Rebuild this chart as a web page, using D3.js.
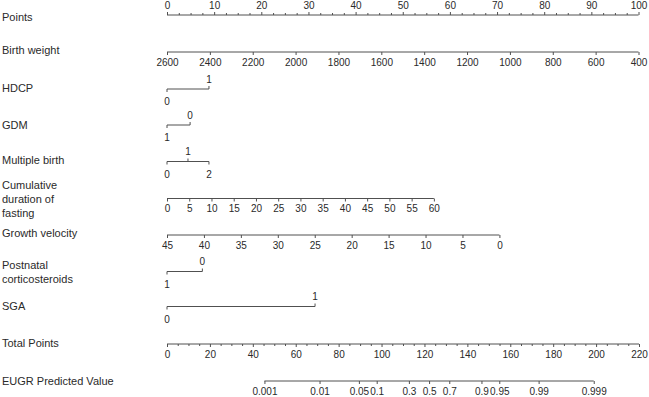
<!DOCTYPE html>
<html>
<head>
<meta charset="utf-8">
<script src="https://cdn.jsdelivr.net/npm/d3@7"></script>
<style>
  html, body { margin: 0; padding: 0; background: #fff; }
  svg text { font-family: "Liberation Sans", Arial, sans-serif; fill: #2a2a2a; }
</style>
</head>
<body>
<svg id="chart" width="649" height="397"></svg>
<script>
// ---- data ----
const pointsTicks = [0, 10, 20, 30, 40, 50, 60, 70, 80, 90, 100];
const pointsMinorStep = 2.5;

const birthWeightTicks = [2600, 2400, 2200, 2000, 1800, 1600, 1400, 1200, 1000, 800, 600, 400];
const birthWeightRange = [2600, 400];
const birthWeightPoints = [0, 100];

const hdcpLevels = ["0", "1"];
const hdcpPoints = [0, 8.9];
const hdcpSide = ["below", "above"];

const gdmLevels = ["1", "0"];
const gdmPoints = [0, 4.9];
const gdmSide = ["below", "above"];

const multipleLevels = ["0", "1", "2"];
const multiplePoints = [0, 4.45, 8.9];
const multipleSide = ["below", "above", "below"];

const fastingTicks = [0, 5, 10, 15, 20, 25, 30, 35, 40, 45, 50, 55, 60];
const fastingRange = [0, 60];
const fastingPoints = [0, 56.6];

const growthTicks = [45, 40, 35, 30, 25, 20, 15, 10, 5, 0];
const growthRange = [45, 0];
const growthPoints = [0, 70.5];

const postnatalLevels = ["1", "0"];
const postnatalPoints = [0, 7.5];
const postnatalSide = ["below", "above"];

const sgaLevels = ["0", "1"];
const sgaPoints = [0, 31.4];
const sgaSide = ["below", "above"];

const totalTicks = [0, 20, 40, 60, 80, 100, 120, 140, 160, 180, 200, 220];
const totalMinorStep = 5;

const predTicks = [0.001, 0.01, 0.05, 0.1, 0.3, 0.5, 0.7, 0.9, 0.95, 0.99, 0.999];
const predLabels = ["0.001", "0.01", "0.05", "0.1", "0.3", "0.5", "0.7", "0.9", "0.95", "0.99", "0.999"];
const lpIntercept = -10.994;   // linear predictor at 0 total points
const lpSlope = 0.0900;        // linear predictor per total point

// ---- layout ----
const svg = d3.select("#chart");
const x0 = 167, x1 = 638.5;
const xPts = d3.scaleLinear().domain([0, 100]).range([x0, x1]);
const xTot = d3.scaleLinear().domain([0, 220]).range([x0, x1 + 0.5]);
const lineColor = "#505050";
const fsRow = 11;
const fsTick = 10;

function rowLabel(lines, y) {
  const n = lines.length;
  lines.forEach((t, i) => {
    svg.append("text").attr("x", 2).attr("y", y + (i - (n - 1) / 2) * 14)
      .attr("dominant-baseline", "central").attr("font-size", fsRow).text(t);
  });
}

function drawContinuous(scale, ticks, labels, y, side, minorTicks) {
  const g = svg.append("g").attr("transform", `translate(0,${y})`);
  const ax = (side === "above" ? d3.axisTop(scale) : d3.axisBottom(scale))
    .tickValues(ticks).tickSizeOuter(0).tickSize(3).tickPadding(3.5)
    .tickFormat((d, i) => labels ? labels[i] : d);
  g.call(ax);
  g.select(".domain").attr("stroke", lineColor).attr("d", `M${scale(ticks[0])},0H${scale(ticks[ticks.length - 1])}`);
  g.selectAll(".tick line").attr("stroke", lineColor);
  g.selectAll(".tick text").attr("font-size", fsTick).attr("font-family", "Liberation Sans, Arial, sans-serif").attr("fill", "#2a2a2a");
  if (minorTicks) {
    const gm = svg.append("g").attr("transform", `translate(0,${y})`);
    const axm = (side === "above" ? d3.axisTop(scale) : d3.axisBottom(scale))
      .tickValues(minorTicks).tickSizeOuter(0).tickSize(2).tickFormat("");
    gm.call(axm);
    gm.select(".domain").remove();
    gm.selectAll(".tick line").attr("stroke", lineColor);
  }
}

function drawCategorical(levels, pts, sides, y) {
  const sc = d3.scaleOrdinal().domain(levels).range(pts.map(p => xPts(p)));
  const g = svg.append("g");
  g.append("line").attr("x1", sc(levels[0])).attr("x2", sc(levels[levels.length - 1]))
    .attr("y1", y).attr("y2", y).attr("stroke", lineColor);
  levels.forEach((lv, i) => {
    const up = sides[i] === "above";
    g.append("line").attr("x1", sc(lv)).attr("x2", sc(lv))
      .attr("y1", y).attr("y2", up ? y - 3 : y + 3).attr("stroke", lineColor);
    g.append("text").attr("x", sc(lv)).attr("y", up ? y - 10 : y + 12.5)
      .attr("text-anchor", "middle").attr("dominant-baseline", "central")
      .attr("font-size", fsTick).text(lv);
  });
}

// Points
rowLabel(["Points"], 16.5);
drawContinuous(xPts, pointsTicks, null, 15, "above",
  d3.range(0, 100 + 1e-9, pointsMinorStep).filter(v => v % 10 !== 0));

// Birth weight
rowLabel(["Birth weight"], 50);
const xBW = d3.scaleLinear().domain(birthWeightRange).range(birthWeightPoints.map(p => xPts(p)));
drawContinuous(xBW, birthWeightTicks, null, 52, "below");

rowLabel(["HDCP"], 88);
drawCategorical(hdcpLevels, hdcpPoints, hdcpSide, 89);

rowLabel(["GDM"], 125);
drawCategorical(gdmLevels, gdmPoints, gdmSide, 125);

rowLabel(["Multiple birth"], 160);
drawCategorical(multipleLevels, multiplePoints, multipleSide, 161.5);

rowLabel(["Cumulative", "duration of", "fasting"], 199);
const xFast = d3.scaleLinear().domain(fastingRange).range(fastingPoints.map(p => xPts(p)));
drawContinuous(xFast, fastingTicks, null, 198.5, "below");

rowLabel(["Growth velocity"], 233);
const xGV = d3.scaleLinear().domain(growthRange).range(growthPoints.map(p => xPts(p)));
drawContinuous(xGV, growthTicks, null, 235, "below");

rowLabel(["Postnatal", "corticosteroids"], 271.5);
drawCategorical(postnatalLevels, postnatalPoints, postnatalSide, 271.5);

rowLabel(["SGA"], 306);
drawCategorical(sgaLevels, sgaPoints, sgaSide, 306.5);

rowLabel(["Total Points"], 343);
drawContinuous(xTot, totalTicks, null, 344, "below",
  d3.range(0, 220 + 1e-9, totalMinorStep).filter(v => v % 20 !== 0));

rowLabel(["EUGR Predicted Value"], 381);
const logit = p => Math.log(p / (1 - p));
const predPos = predTicks.map(p => (logit(p) - lpIntercept) / lpSlope);
drawContinuous(xTot, predPos, predLabels, 381, "below");
</script>
</body>
</html>
